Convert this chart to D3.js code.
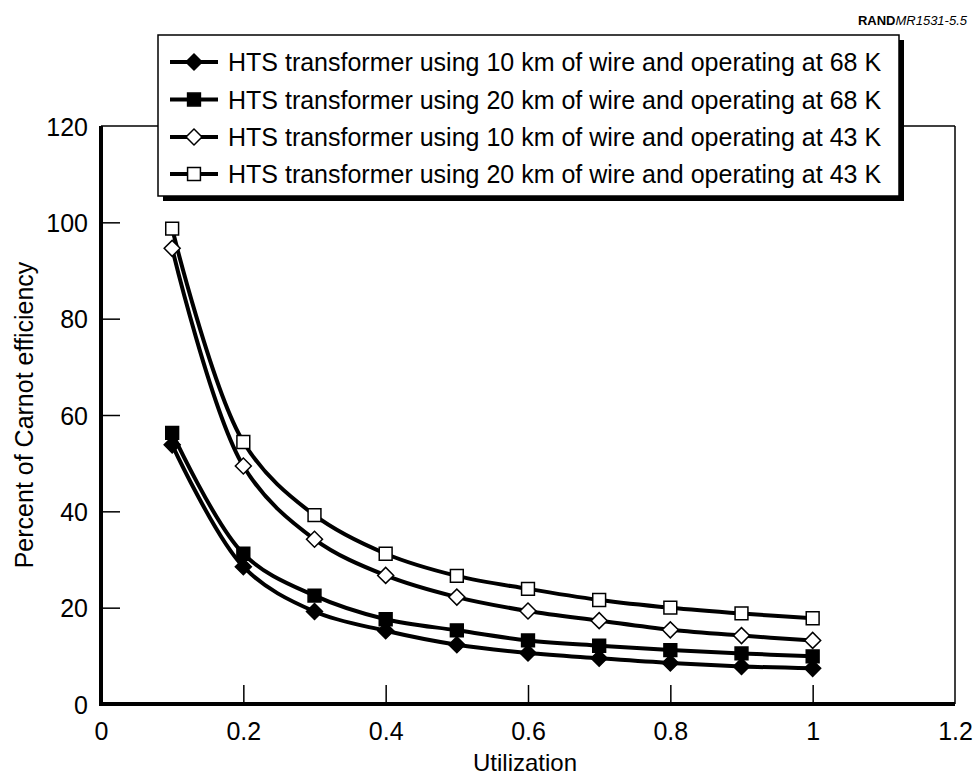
<!DOCTYPE html>
<html>
<head>
<meta charset="utf-8">
<script src="https://cdn.jsdelivr.net/npm/d3@7"></script>
<style>
  html, body { margin: 0; padding: 0; background: #fff; }
  svg { display: block; font-family: "Liberation Sans", Arial, Helvetica, sans-serif; }
</style>
</head>
<body>
<svg id="chart" width="975" height="778"></svg>
<script>
// Utilization levels
const utilization = [0.1, 0.2, 0.3, 0.4, 0.5, 0.6, 0.7, 0.8, 0.9, 1.0];

// Percent of Carnot efficiency per configuration
const wire10k68 = [53.8, 28.5, 19.2, 15.2, 12.3, 10.6, 9.5, 8.5, 7.8, 7.4];
const wire20k68 = [56.3, 31.2, 22.5, 17.6, 15.3, 13.2, 12.1, 11.2, 10.5, 9.9];
const wire10k43 = [94.6, 49.4, 34.2, 26.7, 22.2, 19.3, 17.3, 15.4, 14.2, 13.2];
const wire20k43 = [98.7, 54.4, 39.2, 31.2, 26.6, 23.9, 21.6, 20.0, 18.8, 17.8];

const seriesNames = [
  "HTS transformer using 10 km of wire and operating at 68 K",
  "HTS transformer using 20 km of wire and operating at 68 K",
  "HTS transformer using 10 km of wire and operating at 43 K",
  "HTS transformer using 20 km of wire and operating at 43 K"
];
const seriesValues = [wire10k68, wire20k68, wire10k43, wire20k43];
const seriesMarkers = ["diamond", "square", "diamond", "square"];
const seriesFilled = [true, true, false, false];

const xTicks = [0, 0.2, 0.4, 0.6, 0.8, 1, 1.2];
const yTicks = [0, 20, 40, 60, 80, 100, 120];

(function () {
  const svg = d3.select("#chart");
  const pLeft = 101, pRight = 955, pTop = 126, pBottom = 704;

  const x = d3.scaleLinear().domain([0, 1.2]).range([pLeft, pRight]);
  const y = d3.scaleLinear().domain([0, 120]).range([pBottom, pTop]);

  // Frame: thin top/right edges
  svg.append("line").attr("x1", pLeft).attr("x2", pRight).attr("y1", pTop).attr("y2", pTop)
    .attr("stroke", "#000").attr("stroke-width", 1.5);
  svg.append("line").attr("x1", pRight).attr("x2", pRight).attr("y1", pTop).attr("y2", pBottom)
    .attr("stroke", "#000").attr("stroke-width", 1.5);

  // Axes with inward ticks
  const xAxis = d3.axisBottom(x).tickValues(xTicks).tickSize(0).tickPadding(0)
    .tickFormat(d => String(+d.toFixed(1)));
  const gx = svg.append("g").attr("transform", `translate(0,${pBottom})`).call(xAxis);
  gx.select(".domain").remove();
  gx.selectAll(".tick text").attr("y", 36).attr("dy", 0).attr("font-size", 25)
    .attr("font-family", "Liberation Sans, Arial, sans-serif").attr("fill", "#000");
  gx.selectAll(".tick").filter(d => d > 0 && d < 1.2).append("line")
    .attr("y1", 0).attr("y2", -19).attr("stroke", "#000").attr("stroke-width", 1.5);

  const yAxis = d3.axisLeft(y).tickValues(yTicks).tickSize(0).tickPadding(0);
  const gy = svg.append("g").attr("transform", `translate(${pLeft},0)`).call(yAxis);
  gy.select(".domain").remove();
  gy.selectAll(".tick text").attr("x", -13).attr("dy", "0.36em").attr("font-size", 25)
    .attr("font-family", "Liberation Sans, Arial, sans-serif").attr("fill", "#000");
  gy.selectAll(".tick").filter(d => d > 0 && d < 120).append("line")
    .attr("x1", 0).attr("x2", 19).attr("stroke", "#000").attr("stroke-width", 1.5);

  // Thick left and bottom axis lines
  svg.append("line").attr("x1", pLeft).attr("x2", pLeft).attr("y1", pTop).attr("y2", pBottom + 2)
    .attr("stroke", "#000").attr("stroke-width", 4);
  svg.append("line").attr("x1", pLeft - 2).attr("x2", pRight).attr("y1", pBottom).attr("y2", pBottom)
    .attr("stroke", "#000").attr("stroke-width", 4);

  // Axis titles
  svg.append("text").attr("x", (pLeft + pRight) / 2 - 3).attr("y", 771)
    .attr("text-anchor", "middle").attr("font-size", 24).text("Utilization");
  svg.append("text").attr("transform", `translate(33,${(pTop + pBottom) / 2}) rotate(-90)`)
    .attr("text-anchor", "middle").attr("font-size", 25).text("Percent of Carnot efficiency");

  // Marker shapes
  const diamondPath = d3.symbol().type(d3.symbolSquare).size(128)();
  const squarePath = d3.symbol().type(d3.symbolSquare).size(165)();
  function drawMarker(g, kind, filled) {
    const p = g.append("path")
      .attr("fill", filled ? "#000" : "#fff")
      .attr("stroke", "#000").attr("stroke-width", 1.5);
    if (kind === "diamond") p.attr("d", diamondPath).attr("transform", "rotate(45)");
    else p.attr("d", squarePath);
    return p;
  }

  const line = d3.line().x(d => x(d[0])).y(d => y(d[1])).curve(d3.curveCatmullRom.alpha(0.5));

  // Lines first
  seriesValues.forEach(vals => {
    svg.append("path").datum(utilization.map((u, i) => [u, vals[i]]))
      .attr("d", line).attr("fill", "none").attr("stroke", "#000").attr("stroke-width", 4);
  });

  // Markers on top
  seriesValues.forEach((vals, s) => {
    utilization.forEach((u, i) => {
      const g = svg.append("g").attr("transform", `translate(${x(u)},${y(vals[i])})`);
      drawMarker(g, seriesMarkers[s], seriesFilled[s]);
    });
  });

  // Legend with drop shadow
  const lg = svg.append("g");
  const lx = 158, ly = 35, lw = 741, lh = 161;
  lg.append("rect").attr("x", lx + 5).attr("y", ly + 5).attr("width", lw).attr("height", lh).attr("fill", "#000");
  lg.append("rect").attr("x", lx).attr("y", ly).attr("width", lw).attr("height", lh)
    .attr("fill", "#fff").attr("stroke", "#000").attr("stroke-width", 1.5);
  const rowY = [62, 99.5, 137, 174];
  seriesNames.forEach((name, s) => {
    const r = lg.append("g").attr("transform", `translate(0,${rowY[s]})`);
    r.append("line").attr("x1", 170).attr("x2", 218).attr("stroke", "#000").attr("stroke-width", 4);
    const m = r.append("g").attr("transform", "translate(194,0)");
    drawMarker(m, seriesMarkers[s], seriesFilled[s]);
    r.append("text").attr("x", 228).attr("dy", "0.36em").attr("font-size", 25).text(name);
  });

  // Figure identifier
  const id = svg.append("text").attr("x", 967).attr("y", 25).attr("text-anchor", "end").attr("font-size", 13);
  id.append("tspan").attr("font-weight", "bold").text("RAND");
  id.append("tspan").attr("font-style", "italic").text("MR1531-5.5");
})();
</script>
</body>
</html>
